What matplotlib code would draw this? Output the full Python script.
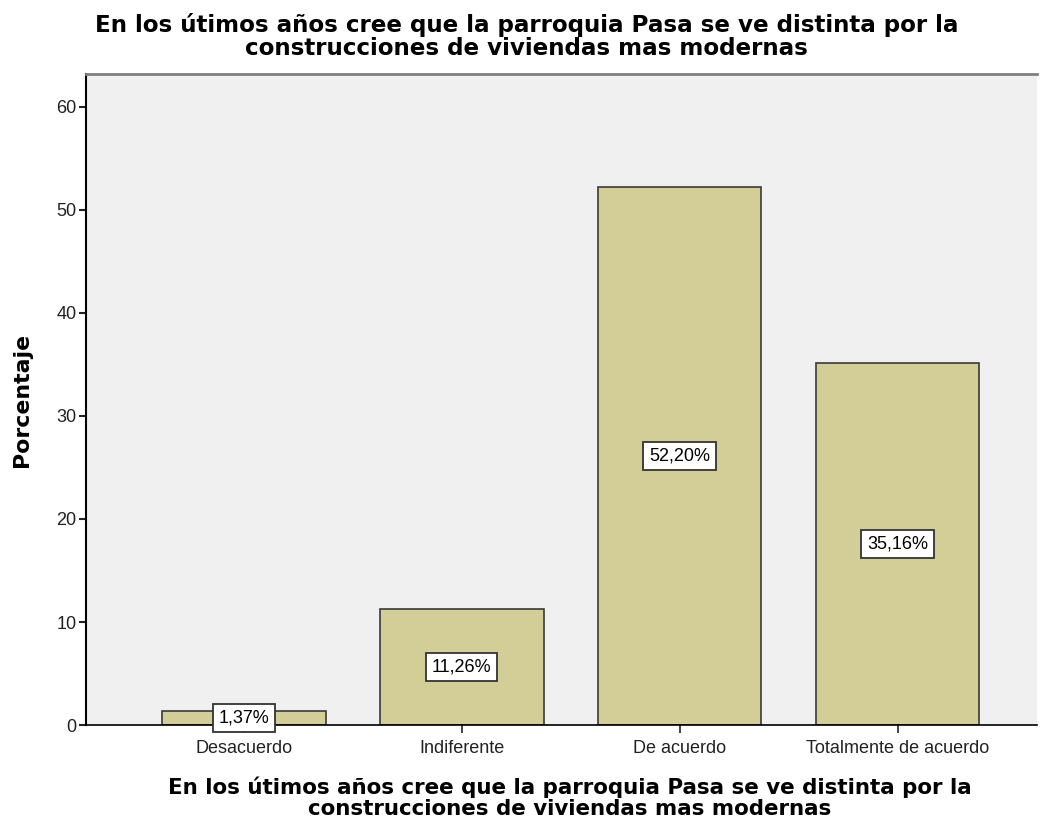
import matplotlib
matplotlib.use("Agg")
import matplotlib.pyplot as plt

plt.rcParams['font.family'] = ['Liberation Sans', 'DejaVu Sans']

categorias = ['Desacuerdo', 'Indiferente', 'De acuerdo', 'Totalmente de acuerdo']
porcentajes = [1.37, 11.26, 52.20, 35.16]
etiquetas = ['1,37%', '11,26%', '52,20%', '35,16%']
yticks = [0, 10, 20, 30, 40, 50, 60]

titulo = ('En los útimos años cree que la parroquia Pasa se ve distinta por la\n'
          'construcciones de viviendas mas modernas')

fig = plt.figure(figsize=(10.46, 8.25), dpi=100)
ax = fig.add_axes([0.0822, 0.1212, 0.9092, 0.7891])
ax.set_facecolor('#F0F0F0')

x = list(range(len(categorias)))
ax.bar(x, porcentajes, width=0.75, color='#D3CE97', edgecolor='#3A3A3A', linewidth=1.2, zorder=2)

for xi, v, lab in zip(x, porcentajes, etiquetas):
    ax.text(xi, v / 2, lab, ha='center', va='center', fontsize=13, zorder=3,
            bbox=dict(boxstyle='square,pad=0.32', fc='white', ec='#333333', lw=1.3))

ax.set_xlim(-0.725, 3.64)
ax.set_ylim(0, 63.2)
ax.set_yticks(yticks)
ax.set_xticks(x)
ax.set_xticklabels(categorias, fontsize=13)
ax.tick_params(axis='y', labelsize=13, length=5, width=1.5, pad=2, colors='#222222')
ax.tick_params(axis='x', length=6, width=1.2, pad=5, colors='#222222')

ax.spines['right'].set_visible(False)
ax.spines['top'].set_color('#808080')
ax.spines['top'].set_linewidth(2)
ax.spines['left'].set_linewidth(1.5)
ax.spines['bottom'].set_linewidth(1.2)

ax.set_ylabel('Porcentaje', fontsize=15.8, fontweight='bold', labelpad=17, family='DejaVu Sans')
ax.set_xlabel(titulo, fontsize=15.4, fontweight='bold', labelpad=14, linespacing=1.02,
              family='DejaVu Sans', x=0.509)
ax.set_title(titulo, fontsize=16.6, fontweight='bold', pad=14, linespacing=1.0,
             family='DejaVu Sans', x=0.463)

fig.savefig('out.png', dpi=100)
